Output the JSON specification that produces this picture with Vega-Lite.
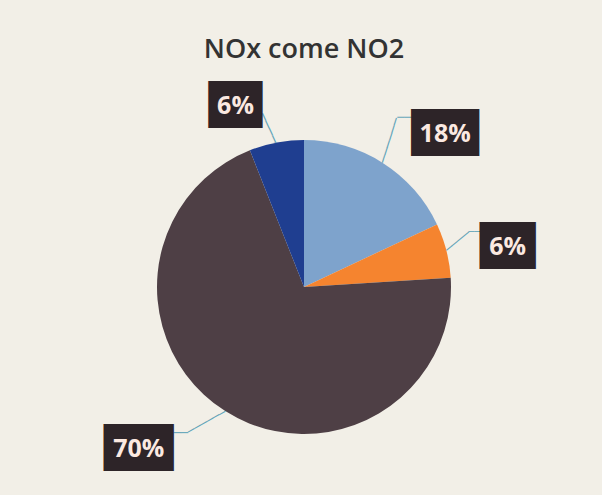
{
  "$schema": "https://vega.github.io/schema/vega-lite/v6.json",
  "autosize": "none",
  "width": 592,
  "height": 394,
  "padding": {"left": 8, "top": 90, "right": 2, "bottom": 11},
  "background": "#f2efe7",
  "config": {"view": {"stroke": null}},
  "title": {"text": "NOx come NO2", "font": "Open Sans", "fontSize": 27, "fontWeight": 600, "color": "#333333", "offset": -3, "anchor": "middle"},
  "data": {"values": [
    {"cat": "A", "order": 1, "value": 18, "label": "18%"},
    {"cat": "B", "order": 2, "value": 6, "label": "6%"},
    {"cat": "C", "order": 3, "value": 70, "label": "70%"},
    {"cat": "D", "order": 4, "value": 6, "label": "6%"}
  ]},
  "encoding": {
    "theta": {"field": "value", "type": "quantitative", "stack": true},
    "order": {"field": "order", "type": "quantitative"}
  },
  "layer": [
    {"mark": {"type": "arc", "outerRadius": 147},
     "encoding": {"color": {"field": "cat", "type": "nominal", "legend": null,
       "scale": {"domain": ["A", "B", "C", "D"], "range": ["#7ea3cc", "#f5842f", "#4e3f45", "#1f3e90"]}}}},

    {"mark": {"type": "text", "radius": 147, "angle": -72.5, "align": "left", "baseline": "middle", "text": "──────", "font": "DejaVu Sans Mono", "fontSize": 13, "color": "#5fa3b8"},
     "encoding": {"opacity": {"condition": {"test": "datum.cat==='A'", "value": 1}, "value": 0}}},
    {"mark": {"type": "text", "radius": 200, "align": "right", "baseline": "middle", "text": "──", "font": "DejaVu Sans Mono", "fontSize": 11.6, "color": "#5fa3b8"},
     "encoding": {"opacity": {"condition": {"test": "datum.cat==='A'", "value": 1}, "value": 0}}},
    {"mark": {"type": "text", "radius": 147, "angle": -39.2, "align": "left", "baseline": "middle", "text": "────", "font": "DejaVu Sans Mono", "fontSize": 12.1, "color": "#5fa3b8"},
     "encoding": {"opacity": {"condition": {"test": "datum.cat==='B'", "value": 1}, "value": 0}}},
    {"mark": {"type": "text", "radius": 200, "dx": -17.7, "dy": -5.3, "align": "right", "baseline": "middle", "text": "──", "font": "DejaVu Sans Mono", "fontSize": 9.5, "color": "#5fa3b8"},
     "encoding": {"opacity": {"condition": {"test": "datum.cat==='B'", "value": 1}, "value": 0}}},
    {"mark": {"type": "text", "radius": 147, "angle": 150.7, "align": "left", "baseline": "middle", "text": "──────", "font": "DejaVu Sans Mono", "fontSize": 11.8, "color": "#5fa3b8"},
     "encoding": {"opacity": {"condition": {"test": "datum.cat==='C'", "value": 1}, "value": 0}}},
    {"mark": {"type": "text", "radius": 200, "dx": -23.2, "dy": -23.3, "align": "left", "baseline": "middle", "text": "──", "font": "DejaVu Sans Mono", "fontSize": 12, "color": "#5fa3b8"},
     "encoding": {"opacity": {"condition": {"test": "datum.cat==='C'", "value": 1}, "value": 0}}},
    {"mark": {"type": "text", "radius": 147, "angle": -114.5, "align": "left", "baseline": "middle", "text": "────", "font": "DejaVu Sans Mono", "fontSize": 13.5, "color": "#5fa3b8"},
     "encoding": {"opacity": {"condition": {"test": "datum.cat==='D'", "value": 1}, "value": 0}}},

    {"mark": {"type": "text", "radius": 200, "dx": 24, "dy": 16, "text": "██", "font": "DejaVu Sans Mono", "fontSize": 39.5, "color": "#2d2428", "baseline": "middle", "align": "center"},
     "encoding": {"opacity": {"condition": {"test": "datum.cat==='A'", "value": 1}, "value": 0}}},
    {"mark": {"type": "text", "radius": 200, "dx": 44, "dy": 16, "text": "██", "font": "DejaVu Sans Mono", "fontSize": 39.5, "color": "#2d2428", "baseline": "middle", "align": "center"},
     "encoding": {"opacity": {"condition": {"test": "datum.cat==='A'", "value": 1}, "value": 0}}},
    {"mark": {"type": "text", "radius": 200, "dx": 34, "dy": 16, "font": "Open Sans", "fontSize": 25, "fontWeight": "bold", "color": "#fbe9e1", "baseline": "middle", "align": "center"},
     "encoding": {"text": {"field": "label"}, "opacity": {"condition": {"test": "datum.cat==='A'", "value": 1}, "value": 0}}},

    {"mark": {"type": "text", "radius": 200, "dx": 6, "dy": 9.5, "text": "██", "font": "DejaVu Sans Mono", "fontSize": 39.5, "color": "#2d2428", "baseline": "middle", "align": "center"},
     "encoding": {"opacity": {"condition": {"test": "datum.cat==='B'", "value": 1}, "value": 0}}},
    {"mark": {"type": "text", "radius": 200, "dx": 14, "dy": 9.5, "text": "██", "font": "DejaVu Sans Mono", "fontSize": 39.5, "color": "#2d2428", "baseline": "middle", "align": "center"},
     "encoding": {"opacity": {"condition": {"test": "datum.cat==='B'", "value": 1}, "value": 0}}},
    {"mark": {"type": "text", "radius": 200, "dx": 10, "dy": 9.5, "font": "Open Sans", "fontSize": 25, "fontWeight": "bold", "color": "#fbe9e1", "baseline": "middle", "align": "center"},
     "encoding": {"text": {"field": "label"}, "opacity": {"condition": {"test": "datum.cat==='B'", "value": 1}, "value": 0}}},

    {"mark": {"type": "text", "radius": 200, "dx": -69, "dy": -7, "text": "██", "font": "DejaVu Sans Mono", "fontSize": 39.5, "color": "#2d2428", "baseline": "middle", "align": "center"},
     "encoding": {"opacity": {"condition": {"test": "datum.cat==='C'", "value": 1}, "value": 0}}},
    {"mark": {"type": "text", "radius": 200, "dx": -47, "dy": -7, "text": "██", "font": "DejaVu Sans Mono", "fontSize": 39.5, "color": "#2d2428", "baseline": "middle", "align": "center"},
     "encoding": {"opacity": {"condition": {"test": "datum.cat==='C'", "value": 1}, "value": 0}}},
    {"mark": {"type": "text", "radius": 200, "dx": -58, "dy": -7, "font": "Open Sans", "fontSize": 25, "fontWeight": "bold", "color": "#fbe9e1", "baseline": "middle", "align": "center"},
     "encoding": {"text": {"field": "label"}, "opacity": {"condition": {"test": "datum.cat==='C'", "value": 1}, "value": 0}}},

    {"mark": {"type": "text", "radius": 200, "dx": -34, "dy": 15.5, "text": "██", "font": "DejaVu Sans Mono", "fontSize": 39.5, "color": "#2d2428", "baseline": "middle", "align": "center"},
     "encoding": {"opacity": {"condition": {"test": "datum.cat==='D'", "value": 1}, "value": 0}}},
    {"mark": {"type": "text", "radius": 200, "dx": -28, "dy": 15.5, "text": "██", "font": "DejaVu Sans Mono", "fontSize": 39.5, "color": "#2d2428", "baseline": "middle", "align": "center"},
     "encoding": {"opacity": {"condition": {"test": "datum.cat==='D'", "value": 1}, "value": 0}}},
    {"mark": {"type": "text", "radius": 200, "dx": -31, "dy": 15.5, "font": "Open Sans", "fontSize": 25, "fontWeight": "bold", "color": "#fbe9e1", "baseline": "middle", "align": "center"},
     "encoding": {"text": {"field": "label"}, "opacity": {"condition": {"test": "datum.cat==='D'", "value": 1}, "value": 0}}}
  ]
}
